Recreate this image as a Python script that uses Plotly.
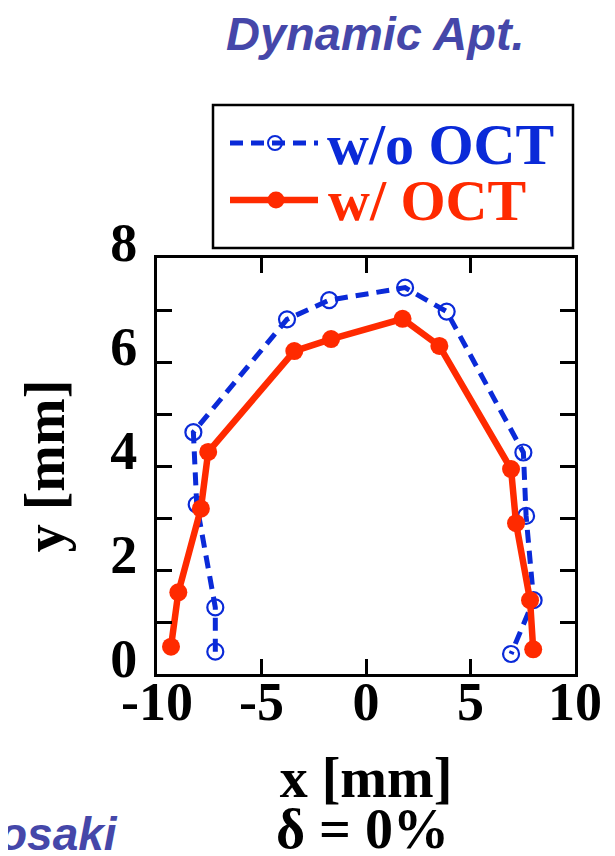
import plotly.graph_objects as go

# ---- data ----
x_without = [-7.21, -7.21, -8.10, -8.26, -3.78, -1.76, 1.87, 3.86, 7.53, 7.66, 8.02, 6.94]
y_without = [0.43, 1.28, 3.26, 4.65, 6.82, 7.19, 7.43, 6.97, 4.26, 3.04, 1.42, 0.385]
x_with = [-9.33, -8.98, -7.90, -7.55, -3.43, -1.67, 1.75, 3.51, 6.94, 7.18, 7.85, 8.00]
y_with = [0.525, 1.57, 3.18, 4.27, 6.21, 6.44, 6.83, 6.31, 3.94, 2.90, 1.42, 0.475]

x_tickvals = [-10, -5, 0, 5, 10]
x_ticktext = ["-10", "-5", "0", "5", "10"]
y_tickvals = [0, 1, 2, 3, 4, 5, 6, 7, 8]
y_ticktext = ["0", "", "2", "", "4", "", "6", "", "8"]

name_without = "w/o OCT"
name_with = "w/ OCT"

BLUE = "#0a2ad8"
RED = "#ff2a00"
TITLE_BLUE = "#4547a9"
SERIF = "Liberation Serif"
SANS = "Liberation Sans"

# The page body has an 8px margin, so the figure is drawn 8px in from the
# window's top-left corner; size it to fill the rest of the 615x856 window.
OFF = 8
W, H = 615 - OFF, 856 - OFF
L, R, T, B = 157 - OFF, 40, 258 - OFF, 182
PW, PH = W - L - R, H - T - B


def px_x(px):
    # screen pixel -> paper coordinate
    return (px - OFF - L) / PW


def px_y(py):
    return (H - B - (py - OFF)) / PH


fig = go.Figure()
fig.add_trace(go.Scatter(
    x=x_without, y=y_without, mode="lines+markers", name=name_without,
    line=dict(color=BLUE, width=5, dash="13px,8px"),
    marker=dict(symbol="circle-open", size=16, color=BLUE, line=dict(width=2.2, color=BLUE)),
    showlegend=False,
))
fig.add_trace(go.Scatter(
    x=x_with, y=y_with, mode="lines+markers", name=name_with,
    line=dict(color=RED, width=6.5),
    marker=dict(symbol="circle", size=18, color=RED),
    showlegend=False,
))

axis_common = dict(
    showline=True, linecolor="black", linewidth=3, mirror="ticks",
    ticks="inside", ticklen=15, tickwidth=3, tickcolor="black",
    showgrid=False, zeroline=False, automargin=False,
    tickfont=dict(family=SERIF, size=54, color="black", weight="bold"),
)

fig.update_layout(
    width=W, height=H,
    margin=dict(l=L, r=R, t=T, b=B, autoexpand=False),
    paper_bgcolor="white", plot_bgcolor="white",
    xaxis=dict(range=[-10, 10], tickvals=x_tickvals, ticktext=x_ticktext,
               ticklabelstandoff=-22,
               title=dict(text="x [mm]", font=dict(family=SERIF, size=56, color="black", weight="bold"), standoff=28),
               **axis_common),
    yaxis=dict(range=[0, 8], tickvals=y_tickvals, ticktext=y_ticktext,
               ticklabelshift=-16, ticklabelstandoff=6,
               title=dict(text="y [mm]", font=dict(family=SERIF, size=56, color="black", weight="bold"), standoff=28),
               **axis_common),
)

shapes = []
annotations = []

# legend box
shapes.append(dict(type="rect", xref="paper", yref="paper",
                   x0=px_x(213), x1=px_x(573), y0=px_y(248), y1=px_y(105),
                   line=dict(color="black", width=2.5), fillcolor="white", layer="above"))
# legend samples
shapes.append(dict(type="line", xref="paper", yref="paper",
                   x0=px_x(230), x1=px_x(318), y0=px_y(143), y1=px_y(143),
                   line=dict(color=BLUE, width=5, dash="13px,8px")))
shapes.append(dict(type="circle", xref="paper", yref="paper", xsizemode="pixel", ysizemode="pixel",
                   xanchor=px_x(275), yanchor=px_y(143), x0=-7, x1=7, y0=-7, y1=7,
                   line=dict(color=BLUE, width=2), fillcolor="rgba(0,0,0,0)"))
shapes.append(dict(type="line", xref="paper", yref="paper",
                   x0=px_x(230), x1=px_x(318), y0=px_y(200), y1=px_y(200),
                   line=dict(color=RED, width=6.5)))
shapes.append(dict(type="circle", xref="paper", yref="paper", xsizemode="pixel", ysizemode="pixel",
                   xanchor=px_x(276), yanchor=px_y(200), x0=-8.5, x1=8.5, y0=-8.5, y1=8.5,
                   line=dict(color=RED, width=0), fillcolor=RED))

annotations.append(dict(text=name_without, xref="paper", yref="paper", x=px_x(325), y=px_y(144),
                        xanchor="left", yanchor="middle", showarrow=False,
                        font=dict(family=SERIF, size=58, color=BLUE, weight="bold")))
annotations.append(dict(text=name_with, xref="paper", yref="paper", x=px_x(326), y=px_y(200),
                        xanchor="left", yanchor="middle", showarrow=False,
                        font=dict(family=SERIF, size=58, color=RED, weight="bold")))

# title and other texts
annotations.append(dict(text="Dynamic Apt.", xref="paper", yref="paper", x=px_x(375), y=px_y(33),
                        xanchor="center", yanchor="middle", showarrow=False,
                        font=dict(family=SANS, size=47, color=TITLE_BLUE, weight="bold", style="italic")))
annotations.append(dict(text="osaki", xref="paper", yref="paper", x=px_x(120), y=px_y(834),
                        xanchor="right", yanchor="middle", showarrow=False,
                        font=dict(family=SANS, size=46, color=TITLE_BLUE, weight="bold", style="italic")))
annotations.append(dict(text="δ = 0%", xref="paper", yref="paper", x=px_x(362), y=px_y(829),
                        xanchor="center", yanchor="middle", showarrow=False,
                        font=dict(family=SERIF, size=56, color="black", weight="bold")))

fig.update_layout(shapes=shapes, annotations=annotations)
fig.write_html("out.html")
